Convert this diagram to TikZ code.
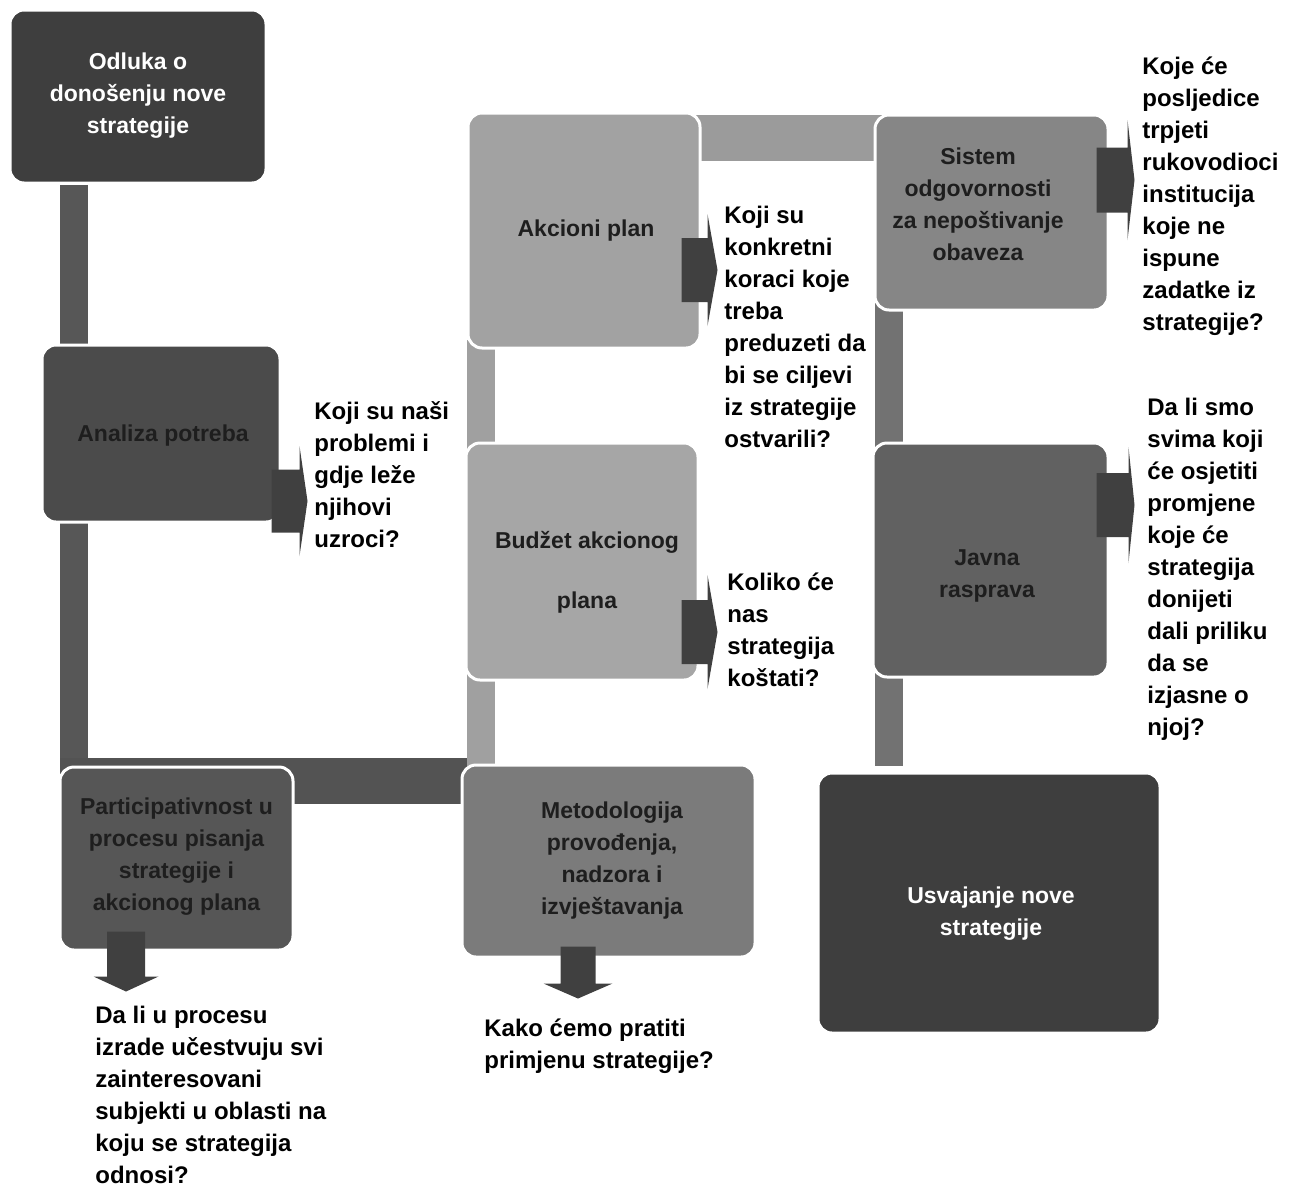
\documentclass[tikz,border=0pt]{standalone}
\usepackage{fontspec}
\setmainfont{Liberation Sans}
\usepackage{tikz}
\usepackage{xcolor}
\usetikzlibrary{backgrounds}

\definecolor{boxtext}{HTML}{1E1E1E}
\definecolor{odlukagrey}{HTML}{3E3E3E}
\definecolor{analizagrey}{HTML}{4B4B4B}
\definecolor{particgrey}{HTML}{565656}
\definecolor{akcionigrey}{HTML}{A2A2A2}
\definecolor{budzetgrey}{HTML}{A6A6A6}
\definecolor{metodgrey}{HTML}{7B7B7B}
\definecolor{sistemgrey}{HTML}{868686}
\definecolor{javnagrey}{HTML}{616161}
\definecolor{usvajgrey}{HTML}{3E3E3E}
\definecolor{barleft}{HTML}{575757}
\definecolor{barbottom}{HTML}{535353}
\definecolor{barmid}{HTML}{A0A0A0}
\definecolor{bartop}{HTML}{9B9B9B}
\definecolor{barright}{HTML}{727272}
\definecolor{arrowgrey}{HTML}{404040}

\begin{document}
\begin{tikzpicture}[x=0.5pt, y=-0.5pt,
  box/.style={rounded corners=7pt, draw=white, line width=1.5pt, inner sep=0pt},
  boxlabel/.style={align=center, inner sep=0pt, text=boxtext,
    font=\fontsize{11.5}{16}\selectfont\bfseries},
  question/.style={anchor=west, align=left, inner sep=0pt, text=black,
    font=\fontsize{12}{16}\selectfont\bfseries},
  bar/.style={line width=14pt},
  widebar/.style={line width=23pt},
  pointer/.style={fill=arrowgrey}]
\useasboundingbox (0,0) rectangle (1294,1189);

% Steps of the process
\node[box, fill=odlukagrey, minimum width=128pt, minimum height=86.5pt] (odluka) at (138,96.5) {};
\node[box, fill=analizagrey, minimum width=119pt, minimum height=88.5pt] (analiza) at (161,433.5) {};
\node[box, fill=particgrey, minimum width=116.5pt, minimum height=91.5pt] (partic) at (176.5,858.5) {};
\node[box, fill=akcionigrey, minimum width=116pt, minimum height=117.5pt] (akcioni) at (584,230.5) {};
\node[box, fill=budzetgrey, minimum width=116pt, minimum height=118.5pt] (budzet) at (582,561.5) {};
\node[box, fill=metodgrey, minimum width=146.5pt, minimum height=96pt] (metod) at (608.5,861) {};
\node[box, fill=sistemgrey, minimum width=116.5pt, minimum height=97.5pt] (sistem) at (991.5,212.5) {};
\node[box, fill=javnagrey, minimum width=117.5pt, minimum height=117pt] (javna) at (990.5,560) {};
\node[box, fill=usvajgrey, minimum width=171pt, minimum height=130pt] (usvaj) at (989,903) {};

% Texts of the steps
\node[boxlabel, text=white] (odlukatext) at (138,96) {Odluka o\\donošenju nove\\strategije};
\node[boxlabel] (analizatext) at (163,435.5) {Analiza potreba};
\node[boxlabel] (partictext) at (176.5,856.5) {Participativnost u\\procesu pisanja\\strategije i\\akcionog plana};
\node[boxlabel] (akcionitext) at (586,230.5) {Akcioni plan};
\node[boxlabel] (budzettext) at (587,572.5) {Budžet akcionog\\[14pt]plana};
\node[boxlabel] (metodtext) at (612,860.5) {Metodologija\\provođenja,\\nadzora i\\izvještavanja};
\node[boxlabel] (sistemtext) at (978,204.5) {Sistem\\odgovornosti\\za nepoštivanje\\obaveza};
\node[boxlabel] (javnatext) at (987,575.5) {Javna\\rasprava};
\node[boxlabel, text=white] (usvajtext) at (991,914) {Usvajanje nove\\strategije};

% Bends of the connecting band
\coordinate (lowleft) at (74,781);
\coordinate (lowmid) at (481,781);
\coordinate (topmid) at (530,137.5);
\coordinate (topright) at (940,137.5);
\coordinate (rightcol) at (889,160);

\begin{scope}[on background layer]
\draw[bar, draw=barleft, shorten >=-12pt] (odluka.south -| lowleft) -- (lowleft);
\draw[widebar, draw=barbottom, shorten <=-7pt, shorten >=-7pt] (lowleft) -- (lowmid);
\draw[bar, draw=barmid, shorten <=-12pt, shorten >=-5pt] (lowmid) -- (akcioni.south -| lowmid);
\draw[widebar, draw=bartop] (topmid) -- (topright);
\draw[bar, draw=barright, shorten >=3pt] (rightcol) -- (rightcol |- usvaj.north);
\end{scope}

% Block arrows to the questions
\fill[pointer, shift={(analiza.east)}] (-10,36) rectangle (18,99) (18,12.5) -- (26,67.5) -- (18,122.5) -- cycle;
\fill[pointer, shift={(akcioni.east)}] (-20,7.5) rectangle (6,71.5) (6,-16.5) -- (16,39.5) -- (6,95.5) -- cycle;
\fill[pointer, shift={(budzet.east)}] (-18,38.5) rectangle (8,102.5) (8,13.5) -- (18,70.5) -- (8,127.5) -- cycle;
\fill[pointer, shift={(sistem.east)}] (-13,-65) rectangle (18,0) (18,-92.5) -- (25,-32.5) -- (18,27.5) -- cycle;
\fill[pointer, shift={(javna.east)}] (-13,-87) rectangle (19,-23) (19,-113) -- (25,-55) -- (19,3) -- cycle;
\fill[pointer, shift={(partic.south)}] (-69.5,-20) rectangle (-31.5,25) (-83,25) -- (-50.5,40) -- (-18,25) -- cycle;
\fill[pointer, shift={(metod.south)}] (-48,-12) rectangle (-13,25) (-65,25) -- (-30.5,40) -- (4,25) -- cycle;

% Questions
\node[question] (qanaliza) at (314,475) {Koji su naši\\problemi i\\gdje leže\\njihovi\\uzroci?};
\node[question] (qakcioni) at (724,326.5) {Koji su\\konkretni\\koraci koje\\treba\\preduzeti da\\bi se ciljevi\\iz strategije\\ostvarili?};
\node[question] (qbudzet) at (727,630) {Koliko će\\nas\\strategija\\koštati?};
\node[question] (qsistem) at (1142,196) {Koje će\\posljedice\\trpjeti\\rukovodioci\\institucija\\koje ne\\ispune\\zadatke iz\\strategije?};
\node[question] (qjavna) at (1147,569) {Da li smo\\svima koji\\će osjetiti\\promjene\\koje će\\strategija\\donijeti\\dali priliku\\da se\\izjasne o\\njoj?};
\node[question] (qpartic) at (95,1095) {Da li u procesu\\izrade učestvuju svi\\zainteresovani\\subjekti u oblasti na\\koju se strategija\\odnosi?};
\node[question] (qmetod) at (484,1046) {Kako ćemo pratiti\\primjenu strategije?};
\end{tikzpicture}
\end{document}
